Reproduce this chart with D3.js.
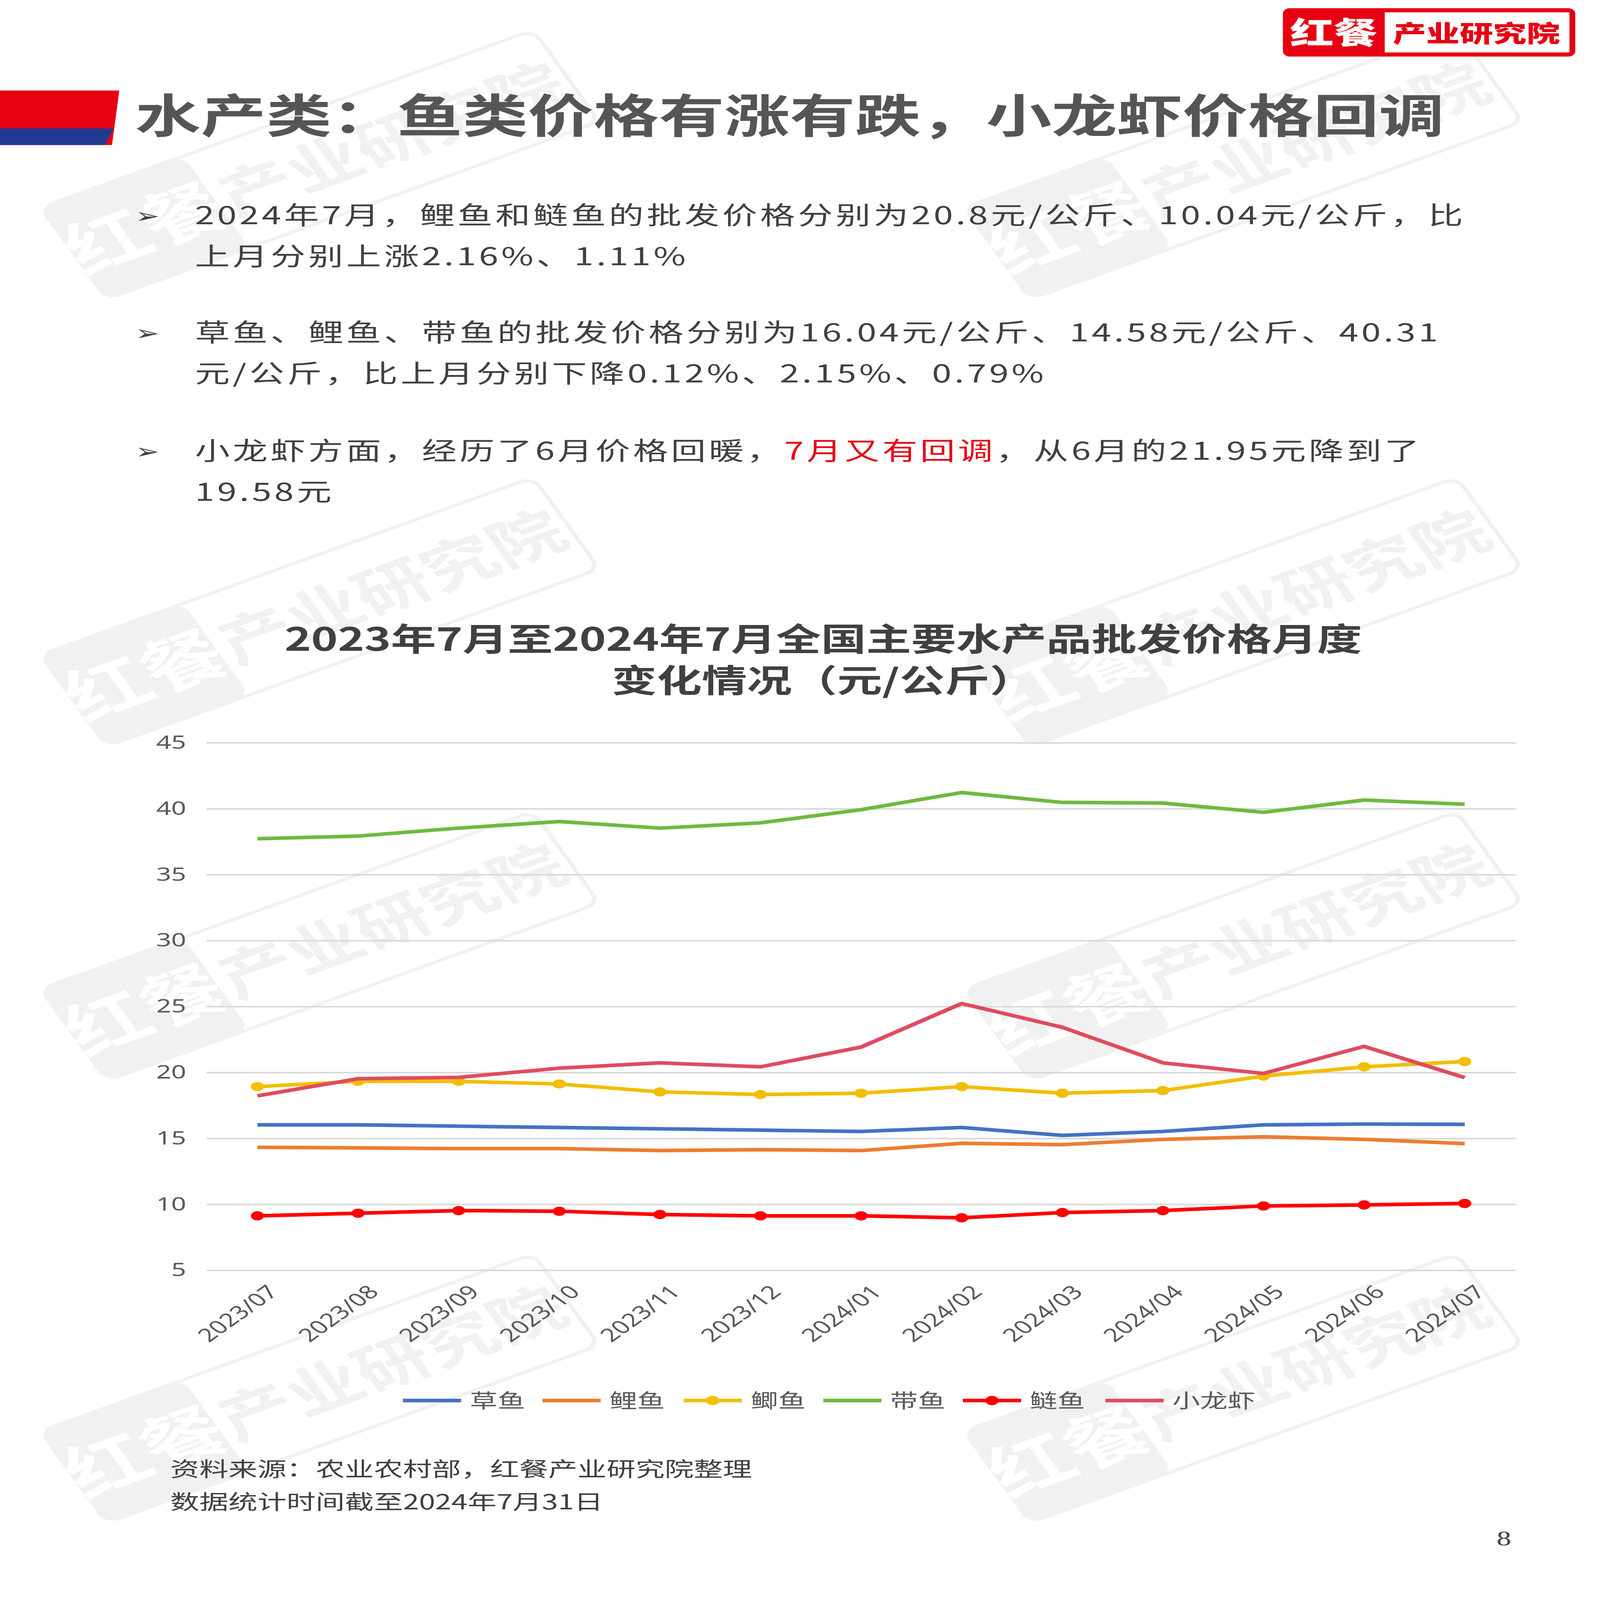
<!DOCTYPE html>
<html><head><meta charset="utf-8">
<script src="https://cdn.jsdelivr.net/npm/d3@7"></script>
<style>html,body{margin:0;padding:0;background:#fff;overflow:hidden;width:100vw;height:100vh}svg{display:block;width:100vw;height:100vh;font-family:"Noto Sans CJK SC","Noto Sans",sans-serif}</style>
</head><body><svg id="c" viewBox="0 0 1100 1556" preserveAspectRatio="none"></svg>
<script>
const months = ["2023/07","2023/08","2023/09","2023/10","2023/11","2023/12","2024/01","2024/02","2024/03","2024/04","2024/05","2024/06","2024/07"];
const yTicks = [5,10,15,20,25,30,35,40,45];
const caoyu   = [16.0,16.0,15.9,15.8,15.7,15.6,15.5,15.8,15.2,15.5,16.0,16.06,16.04];
const liyu    = [14.3,14.25,14.2,14.2,14.05,14.12,14.05,14.6,14.5,14.9,15.1,14.9,14.58];
const jiyu    = [18.9,19.3,19.3,19.1,18.5,18.3,18.4,18.9,18.4,18.6,19.7,20.4,20.8];
const daiyu   = [37.7,37.9,38.5,39.0,38.5,38.9,39.9,41.2,40.45,40.4,39.7,40.63,40.31];
const lianyu  = [9.1,9.3,9.5,9.45,9.2,9.1,9.1,8.95,9.35,9.5,9.85,9.93,10.04];
const longxia = [18.2,19.5,19.6,20.3,20.7,20.4,21.9,25.2,23.4,20.7,19.9,21.95,19.58];
const seriesNames = ["草鱼","鲤鱼","鲫鱼","带鱼","鲢鱼","小龙虾"];
const seriesData = [caoyu,liyu,jiyu,daiyu,lianyu,longxia];
const seriesColors = ["#4472C4","#ED7D31","#F2BE00","#70B842","#FF0000","#E04B5F"];
const seriesMarkers = [false,false,true,false,true,false];

const svg = d3.select("#c");
const wm = [[220,160],[855,160],[220,595],[855,595],[220,920],[855,920],[220,1350],[855,1350]];
wm.forEach(([x,y])=>{
  const g = svg.append("g").attr("transform",`translate(${x},${y}) rotate(-27)`).attr("opacity",0.05);
  g.append("rect").attr("x",-190).attr("y",-50).attr("width",380).attr("height",100).attr("rx",10).attr("fill","none").attr("stroke","#000").attr("stroke-width",3);
  g.append("rect").attr("x",-190).attr("y",-50).attr("width",110).attr("height",100).attr("rx",10).attr("fill","#000");
  g.append("text").attr("x",-135).attr("y",22).attr("text-anchor","middle").attr("font-size",58).attr("font-weight",700).attr("fill","#fff").text("红餐");
  g.append("text").attr("x",55).attr("y",20).attr("text-anchor","middle").attr("font-size",52).attr("font-weight",700).attr("fill","#000").text("产业研究院");
});
svg.append("rect").attr("x",882).attr("y",8).attr("width",201).attr("height",47).attr("rx",5).attr("fill","#E60012");
svg.append("rect").attr("x",952).attr("y",12).attr("width",127).attr("height",39).attr("fill","#fff");
svg.append("text").attr("x",917).attr("y",43).attr("text-anchor","middle").attr("font-size",30).attr("font-weight",900).attr("fill","#fff").text("红餐");
svg.append("text").attr("x",1015).attr("y",41).attr("text-anchor","middle").attr("font-size",23).attr("font-weight",900).attr("fill","#E60012").text("产业研究院");
svg.append("path").attr("d","M0,88 L82,88 L77,141 L0,141Z").attr("fill","#E60012");
svg.append("path").attr("d","M0,125 L78,125 L72,141 L0,141Z").attr("fill","#1F3A93");
svg.append("text").attr("x",93).attr("y",129).attr("font-size",45).attr("font-weight",700).attr("fill","#555").text("水产类：鱼类价格有涨有跌，小龙虾价格回调");
const bul = [
  [209,["2024年7月，鲤鱼和鲢鱼的批发价格分别为20.8元/公斤、10.04元/公斤，比","上月分别上涨2.16%、1.11%"]],
  [323,["草鱼、鲤鱼、带鱼的批发价格分别为16.04元/公斤、14.58元/公斤、40.31","元/公斤，比上月分别下降0.12%、2.15%、0.79%"]],
];
bul.forEach(([y,lines])=>{
  svg.append("text").attr("x",93).attr("y",y+8).attr("font-size",20).attr("fill","#404040").text("➢");
  lines.forEach((l,i)=>svg.append("text").attr("x",134).attr("y",y+9+i*40).attr("font-size",24).attr("letter-spacing",2).attr("fill","#404040").text(l));
});
svg.append("text").attr("x",93).attr("y",446).attr("font-size",20).attr("fill","#404040").text("➢");
const t3 = svg.append("text").attr("x",134).attr("y",447).attr("font-size",24).attr("letter-spacing",2).attr("fill","#404040");
t3.append("tspan").text("小龙虾方面，经历了6月价格回暖，");
t3.append("tspan").attr("fill","#E60012").text("7月又有回调");
t3.append("tspan").text("，从6月的21.95元降到了");
svg.append("text").attr("x",134).attr("y",487).attr("font-size",24).attr("letter-spacing",2).attr("fill","#404040").text("19.58元");
svg.append("text").attr("x",566).attr("y",633).attr("text-anchor","middle").attr("font-size",31).attr("font-weight",700).attr("fill","#404040").text("2023年7月至2024年7月全国主要水产品批发价格月度");
svg.append("text").attr("x",566).attr("y",673).attr("text-anchor","middle").attr("font-size",31).attr("font-weight",700).attr("fill","#404040").text("变化情况（元/公斤）");
const x = d3.scalePoint().domain(months).range([177,1007]);
const y = d3.scaleLinear().domain([5,45]).range([1235,722]);
const ya = svg.append("g").attr("transform","translate(142,0)")
  .call(d3.axisLeft(y).tickValues(yTicks).tickSize(-900).tickPadding(14));
ya.select(".domain").remove();
ya.selectAll("line").attr("stroke","#d9d9d9").attr("stroke-width",1.5);
ya.selectAll("text").attr("font-size",18).attr("fill","#595959").attr("font-family","Noto Sans");
const xa = svg.append("g").attr("transform","translate(0,1245)").call(d3.axisBottom(x).tickSize(0));
xa.select(".domain").remove();
xa.selectAll("text").attr("font-size",18).attr("fill","#595959").attr("font-family","Noto Sans")
  .attr("text-anchor","end").attr("transform","translate(8,6) rotate(-45)").attr("dy","0.35em");
const line = d3.line().x((d,i)=>x(months[i])).y(d=>y(d));
seriesData.forEach((s,k)=>{
  svg.append("path").datum(s).attr("d",line).attr("fill","none").attr("stroke",seriesColors[k]).attr("stroke-width",3.5).attr("stroke-linejoin","round");
  if(seriesMarkers[k]) svg.selectAll(null).data(s).enter().append("circle").attr("cx",(d,i)=>x(months[i])).attr("cy",d=>y(d)).attr("r",4.5).attr("fill",seriesColors[k]);
});
const lx = [277,373,470,566,662,760];
seriesNames.forEach((n,k)=>{
  const g = svg.append("g").attr("transform",`translate(${lx[k]},1362)`);
  g.append("line").attr("x1",0).attr("x2",40).attr("stroke",seriesColors[k]).attr("stroke-width",3.5);
  if(seriesMarkers[k]) g.append("circle").attr("cx",20).attr("r",4.5).attr("fill",seriesColors[k]);
  g.append("text").attr("x",46).attr("y",7).attr("font-size",19).attr("fill","#595959").text(n);
});
svg.append("text").attr("x",117).attr("y",1436).attr("font-size",20).attr("fill","#404040").text("资料来源：农业农村部，红餐产业研究院整理");
svg.append("text").attr("x",117).attr("y",1468).attr("font-size",20).attr("fill","#404040").text("数据统计时间截至2024年7月31日");
svg.append("text").attr("x",1034).attr("y",1503).attr("text-anchor","middle").attr("font-size",20).attr("fill","#404040").attr("font-family","Liberation Serif").text("8");
</script></body></html>
